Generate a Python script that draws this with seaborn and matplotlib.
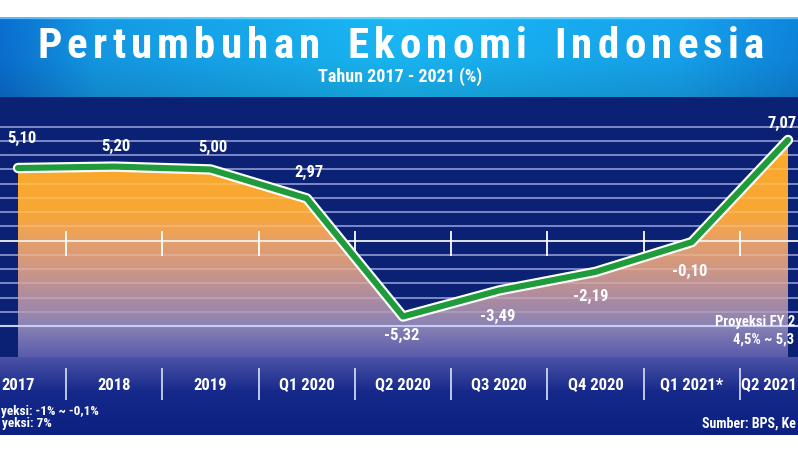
import numpy as np
import pandas as pd
import matplotlib
matplotlib.use("Agg")
import matplotlib.pyplot as plt
import seaborn as sns
from matplotlib import font_manager
from matplotlib import patheffects as pe
from matplotlib.font_manager import FontProperties
from matplotlib.colors import LinearSegmentedColormap

# ---------------- data ----------------
periods = ["2017", "2018", "2019", "Q1 2020", "Q2 2020", "Q3 2020", "Q4 2020", "Q1 2021*", "Q2 2021"]
growth = [5.10, 5.20, 5.00, 2.97, -5.32, -3.49, -2.19, -0.10, 7.07]
value_labels = ["5,10", "5,20", "5,00", "2,97", "-5,32", "-3,49", "-2,19", "-0,10", "7,07"]
grid_values = [8, 7, 6, 5, 4, 3, 2, 1, -1, -2, -3, -4, -5, -6]
title = "Pertumbuhan Ekonomi Indonesia"
subtitle = "Tahun 2017 - 2021 (%)"
# notes as they are visible in the (cropped) reference
note_left = ["yeksi: -1% ~ -0,1%", "yeksi: 7%"]
note_right = ["Proyeksi FY 2", "4,5% ~ 5,3"]
source = "Sumber: BPS, Ke"

# label offsets (points) relative to each point
label_offsets = [(3, 21), (1.5, 14.5), (2, 16), (1.5, 18.5), (-1, -13.5),
                 (-1, -18.5), (-3.5, -18), (-1.5, -21.5), (1.5, 12)]

sns.set_theme(style="white")

# ---------------- fonts ----------------
names = {f.name for f in font_manager.fontManager.ttflist}
COND, STRETCH = None, "normal"
for n in ["Liberation Sans Narrow", "Roboto Condensed", "Open Sans Condensed", "DejaVu Sans Condensed"]:
    if n in names:
        COND = n
        break
if COND is None:
    COND, STRETCH = "DejaVu Sans", "condensed"
plt.rcParams["font.family"] = [COND, "DejaVu Sans"]


def fp(size):
    return FontProperties(family=[COND, "DejaVu Sans"], weight="bold", stretch=STRETCH, size=size)


W, H = 798, 449
fig = plt.figure(figsize=(W / 100, H / 100), dpi=100, facecolor="white")


def fx(px):
    return px / W


def fy(py):
    return 1 - py / H


# ---------------- header ----------------
hax = fig.add_axes([0, fy(97), 1, (97 - 17) / H])
hax.set_axis_off()
xs = np.linspace(0, 1, W)
stops_x = [0, 0.12, 0.5, 0.85, 1.0]
cols = np.array([(10, 108, 204), (20, 150, 224), (25, 180, 240), (22, 160, 232), (14, 130, 216)]) / 255
prof = np.stack([np.interp(xs, stops_x, cols[:, k]) for k in range(3)], axis=1)
rows = 80
vfac = np.interp(np.arange(rows), [0, 3, 40, 79], [1.25, 1.02, 1.0, 0.9])
hdr = np.clip(prof[None, :, :] * vfac[:, None, None], 0, 1)
hdr[0:2] = np.clip(hdr[0:2] * 0.4 + 0.6 * np.array([0.55, 0.85, 0.97]), 0, 1)
hax.imshow(hdr, aspect="auto", extent=(0, 1, 0, 1))
hax.set_xlim(0, 1)
hax.set_ylim(0, 1)

# title with letter spacing
renderer = fig.canvas.get_renderer()
tfp = fp(31)
words = title.split(" ")
widths = []
for w in words:
    ww = []
    for ch in w:
        t = fig.text(0, 0, ch, fontproperties=tfp)
        ww.append(t.get_window_extent(renderer).width)
        t.remove()
    widths.append(ww)
n_letters = sum(len(w) for w in words)
extra = 22
span = 727
gap = (span - sum(sum(w) for w in widths) - extra * (len(words) - 1)) / (n_letters - 1)
x = 37.0
for wi, w in enumerate(words):
    for ci, ch in enumerate(w):
        fig.text(fx(x), fy(46), ch, fontproperties=tfp, color="white", ha="left", va="center")
        x += widths[wi][ci] + gap
    x += extra
fig.text(fx(400), fy(77), subtitle, fontproperties=fp(13), color="white", ha="center", va="center")

# ---------------- main panel ----------------
ax = fig.add_axes([0, fy(435), 1, (435 - 97) / H])
ax.set_facecolor("#0b2274")
for s in ax.spines.values():
    s.set_visible(False)

x0, x1 = -18 / 96.25, 780 / 96.25
zero_px, unit = 240.7, 14.25
y0, y1 = -(435 - zero_px) / unit, (zero_px - 97) / unit
fill_bottom = -(357 - zero_px) / unit

# bottom band gradient
band_cmap = LinearSegmentedColormap.from_list(
    "band", [(0, "#4c52a6"), (0.45, "#15298a"), (1, "#0b2080")])
ax.imshow(np.linspace(0, 1, 200)[:, None], cmap=band_cmap, aspect="auto",
          extent=(x0, x1, y0, fill_bottom), origin="upper", zorder=0.5)

# gridlines (below fill)
ax.hlines(grid_values, x0, x1, colors="#7a84d0", lw=1.1, zorder=0.8)

# gradient fill under the line
idx = np.arange(len(growth))
poly = ax.fill_between(idx, growth, fill_bottom, color="none", lw=0)
clip_path = poly.get_paths()[0]
top = 7.1
fill_stops = [(7.1, "#fbaa28"), (2.0, "#f8a734"), (0.8, "#f0a452"), (0.0, "#e6a068"),
              (-2.0, "#cf9684"), (-4.0, "#ad8ca0"), (-6.0, "#8a82b4"), (fill_bottom, "#5a5cac")]
pos = [(top - v) / (top - fill_bottom) for v, _ in fill_stops]
pos[0], pos[-1] = 0.0, 1.0
fill_cmap = LinearSegmentedColormap.from_list("fill", list(zip(pos, [c for _, c in fill_stops])))
im = ax.imshow(np.linspace(0, 1, 400)[:, None], cmap=fill_cmap, aspect="auto",
               extent=(0, len(growth) - 1, fill_bottom, top), origin="upper", zorder=1)
im.set_clip_path(clip_path, ax.transData)

# gridlines over fill
ax.hlines(grid_values, x0, x1, colors="white", alpha=0.22, lw=1.1, zorder=1.5)
ax.hlines([-6], x0, x1, colors="#c9cdf4", lw=1.5, zorder=1.6)

# zero axis and ticks
ax.axhline(0, color="#f4f2f2", lw=1.3, zorder=2)
ax.vlines(np.arange(len(growth) - 1) + 0.5, -1.05, 0.7, color="white", lw=1.3, zorder=2)

# line
df = pd.DataFrame({"idx": idx, "growth": growth})
sns.lineplot(data=df, x="idx", y="growth", ax=ax, color="#1f9b3b", lw=4.4, zorder=4,
             solid_capstyle="round", solid_joinstyle="round", legend=False)
ln = ax.lines[-1]
ln.set_path_effects([pe.Stroke(linewidth=7.5, foreground="white"), pe.Normal()])

# value labels (the last one is kept inside the picture edge)
last = len(value_labels) - 1
for i, (lab, off) in enumerate(zip(value_labels, label_offsets)):
    if i == last:
        ax.annotate(lab, (x1, growth[i]), xytext=(-1, off[1]), textcoords="offset points",
                    ha="right", va="center", color="white", fontproperties=fp(12), zorder=5)
    else:
        ax.annotate(lab, (i, growth[i]), xytext=off, textcoords="offset points",
                    ha="center", va="center", color="white", fontproperties=fp(12), zorder=5)

# category labels and separators
cat_y = (zero_px - 386) / unit
for i, p in enumerate(periods):
    if i == len(periods) - 1:
        ax.annotate(p, (x1, cat_y), xytext=(-1, 0), textcoords="offset points",
                    ha="right", va="center", color="white", fontproperties=fp(12), zorder=5)
    else:
        ax.text(i, cat_y, p, ha="center", va="center", color="white", fontproperties=fp(12), zorder=5)
ax.vlines(np.arange(len(periods) - 1) + 0.5, (zero_px - 400) / unit, (zero_px - 368) / unit,
          color="#cdd2f2", lw=1.3, zorder=3)

ax.set_xlim(x0, x1)
ax.set_ylim(y0, y1)
ax.set_xticks([])
ax.set_yticks([])
ax.set_xlabel("")
ax.set_ylabel("")

# notes
fig.text(fx(1), fy(411), note_left[0], ha="left", va="center", color="white", fontproperties=fp(9.5))
fig.text(fx(2), fy(424), note_left[1], ha="left", va="center", color="white", fontproperties=fp(9.5))
fig.text(fx(715), fy(322), note_right[0], ha="left", va="center", color="white", fontproperties=fp(10.5), zorder=6)
fig.text(fx(733), fy(340), note_right[1], ha="left", va="center", color="white", fontproperties=fp(10.5), zorder=6)
fig.text(fx(796), fy(424), source, ha="right", va="center", color="white", fontproperties=fp(10))

fig.savefig("out.png", dpi=100, facecolor="white")
